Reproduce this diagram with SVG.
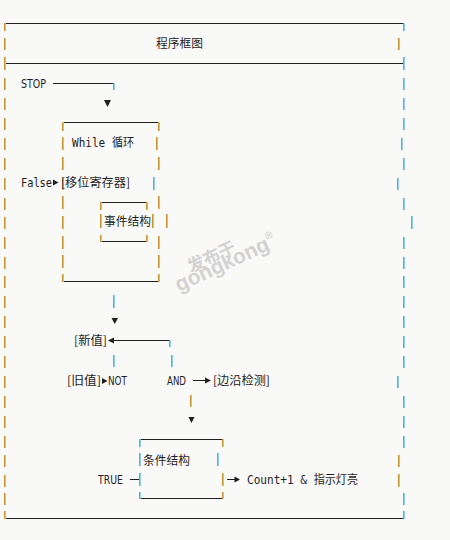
<svg xmlns="http://www.w3.org/2000/svg" width="450" height="540" viewBox="0 0 450 540">
<defs>
<linearGradient id="vg" x1="0" x2="1" y1="0" y2="0">
<stop offset="0.5" stop-color="#cc9636"/>
<stop offset="0.5" stop-color="#8ccbf0"/>
</linearGradient>
<style>
.v{fill:url(#vg)}
.h{stroke:#1e1e1e;stroke-width:1;fill:none}
.a{fill:#1e1e1e}
.t{font-family:"DejaVu Sans Mono","Noto Sans CJK SC",monospace;font-size:12px;fill:#1e1e1e}
.s{font-family:"DejaVu Sans","Noto Sans CJK SC",sans-serif;font-size:12px;fill:#1e1e1e}
.c{font-family:"Noto Sans CJK SC",sans-serif;font-size:12px;fill:#1e1e1e}
.w{font-family:"Liberation Sans","Noto Sans CJK SC",sans-serif;font-weight:bold;fill:#d2d2d2}
</style>
</defs>
<rect width="450" height="540" fill="#f9f9f8"/>

<g id="frame">
<path class="h" d="M5 23.5H404M5 63.5H404M5 518.5H404"/>
<rect class="v" x="4" y="23" width="2" height="8"/>
<rect class="v" x="4" y="57" width="2" height="13"/>
<rect class="v" x="4" y="511" width="2" height="8"/>
<rect class="v" x="4" y="38" width="2" height="12"/>
<rect class="v" x="4" y="78" width="2" height="12"/>
<rect class="v" x="4" y="98" width="2" height="12"/>
<rect class="v" x="4" y="118" width="2" height="12"/>
<rect class="v" x="4" y="138" width="2" height="12"/>
<rect class="v" x="4" y="158" width="2" height="12"/>
<rect class="v" x="4" y="178" width="2" height="12"/>
<rect class="v" x="4" y="198" width="2" height="12"/>
<rect class="v" x="4" y="217" width="2" height="12"/>
<rect class="v" x="4" y="237" width="2" height="12"/>
<rect class="v" x="4" y="257" width="2" height="12"/>
<rect class="v" x="4" y="276" width="2" height="12"/>
<rect class="v" x="4" y="296" width="2" height="12"/>
<rect class="v" x="4" y="316" width="2" height="12"/>
<rect class="v" x="4" y="336" width="2" height="12"/>
<rect class="v" x="4" y="356" width="2" height="12"/>
<rect class="v" x="4" y="376" width="2" height="12"/>
<rect class="v" x="4" y="396" width="2" height="12"/>
<rect class="v" x="4" y="416" width="2" height="12"/>
<rect class="v" x="4" y="436" width="2" height="12"/>
<rect class="v" x="4" y="455" width="2" height="12"/>
<rect class="v" x="4" y="475" width="2" height="12"/>
<rect class="v" x="4" y="493" width="2" height="12"/>
<rect class="v" x="403" y="23" width="2" height="8"/>
<rect class="v" x="403" y="57" width="2" height="13"/>
<rect class="v" x="403" y="511" width="2" height="8"/>
<rect class="v" x="398" y="38" width="2" height="12"/>
<rect class="v" x="403" y="78" width="2" height="12"/>
<rect class="v" x="403" y="98" width="2" height="12"/>
<rect class="v" x="403" y="118" width="2" height="12"/>
<rect class="v" x="401" y="138" width="2" height="12"/>
<rect class="v" x="403" y="158" width="2" height="12"/>
<rect class="v" x="397" y="178" width="2" height="12"/>
<rect class="v" x="403" y="198" width="2" height="12"/>
<rect class="v" x="411" y="216" width="2" height="13"/>
<rect class="v" x="403" y="237" width="2" height="12"/>
<rect class="v" x="403" y="257" width="2" height="12"/>
<rect class="v" x="403" y="276" width="2" height="12"/>
<rect class="v" x="403" y="296" width="2" height="12"/>
<rect class="v" x="403" y="316" width="2" height="12"/>
<rect class="v" x="403" y="336" width="2" height="12"/>
<rect class="v" x="403" y="356" width="2" height="12"/>
<rect class="v" x="397" y="376" width="2" height="12"/>
<rect class="v" x="403" y="396" width="2" height="12"/>
<rect class="v" x="403" y="416" width="2" height="12"/>
<rect class="v" x="403" y="436" width="2" height="12"/>
<rect class="v" x="398" y="455" width="2" height="12"/>
<rect class="v" x="398" y="474" width="2" height="13"/>
<rect class="v" x="403" y="493" width="2" height="12"/>
</g>

<g id="title">
<text class="c" x="156" y="47.5" textLength="47" lengthAdjust="spacingAndGlyphs">程序框图</text>
</g>

<g id="stop">
<text class="s" x="21" y="88" textLength="25" lengthAdjust="spacingAndGlyphs">STOP</text>
</g>

<g id="while-loop">
<path class="h" d="M62 122.5H160M62 281.5H160"/>
<rect class="v" x="62" y="122" width="2" height="9"/>
<rect class="v" x="158" y="122" width="2" height="9"/>
<rect class="v" x="62" y="274" width="2" height="8"/>
<rect class="v" x="158" y="274" width="2" height="8"/>
<rect class="v" x="62" y="137" width="2" height="13"/>
<rect class="v" x="62" y="157" width="2" height="13"/>
<rect class="v" x="62" y="177" width="2" height="13"/>
<rect class="v" x="62" y="196" width="2" height="13"/>
<rect class="v" x="62" y="216" width="2" height="13"/>
<rect class="v" x="62" y="236" width="2" height="13"/>
<rect class="v" x="62" y="255" width="2" height="13"/>
<rect class="v" x="156" y="137" width="2" height="13"/>
<rect class="v" x="158" y="157" width="2" height="13"/>
<rect class="v" x="153" y="177" width="2" height="13"/>
<rect class="v" x="158" y="196" width="2" height="13"/>
<rect class="v" x="166" y="214" width="2" height="14"/>
<rect class="v" x="158" y="236" width="2" height="13"/>
<rect class="v" x="158" y="255" width="2" height="13"/>
<text class="t" x="72" y="147" textLength="62" lengthAdjust="spacingAndGlyphs">While 循环</text>
</g>

<g id="shift-register">
<text class="t" x="21" y="187" textLength="31" lengthAdjust="spacingAndGlyphs">False</text>
<text class="c" x="61" y="187" textLength="69" lengthAdjust="spacingAndGlyphs">[移位寄存器]</text>
</g>

<g id="event-structure">
<path class="h" d="M101 202.5H147M101 241.5H147"/>
<rect class="v" x="100" y="202" width="2" height="8"/>
<rect class="v" x="146" y="202" width="2" height="8"/>
<rect class="v" x="100" y="235" width="2" height="7"/>
<rect class="v" x="146" y="235" width="2" height="7"/>
<rect class="v" x="100" y="214" width="2" height="14"/>
<rect class="v" x="152" y="214" width="2" height="14"/>
<text class="c" x="104" y="226" textLength="47" lengthAdjust="spacingAndGlyphs">事件结构</text>
</g>

<g id="new-value">
<text class="c" x="74" y="345" textLength="33" lengthAdjust="spacingAndGlyphs">[新值]</text>
</g>

<g id="old-value-not">
<text class="c" x="67" y="385" textLength="34" lengthAdjust="spacingAndGlyphs">[旧值]</text>
<text class="s" x="108" y="385" textLength="19" lengthAdjust="spacingAndGlyphs">NOT</text>
</g>

<g id="and">
<text class="s" x="167" y="385" textLength="19" lengthAdjust="spacingAndGlyphs">AND</text>
</g>

<g id="edge-detect">
<text class="c" x="213" y="385" textLength="57" lengthAdjust="spacingAndGlyphs">[边沿检测]</text>
</g>

<g id="case-structure">
<path class="h" d="M140 439.5H224M140 498.5H224"/>
<rect class="v" x="139" y="439" width="2" height="8"/>
<rect class="v" x="222" y="439" width="2" height="8"/>
<rect class="v" x="139" y="492" width="2" height="7"/>
<rect class="v" x="222" y="492" width="2" height="7"/>
<rect class="v" x="139" y="453" width="2" height="13"/>
<rect class="v" x="217" y="453" width="2" height="13"/>
<rect class="v" x="139" y="473" width="2" height="13"/>
<rect class="v" x="222" y="473" width="2" height="13"/>
<text class="c" x="143" y="465" textLength="47" lengthAdjust="spacingAndGlyphs">条件结构</text>
</g>

<g id="true">
<text class="s" x="98" y="484" textLength="25" lengthAdjust="spacingAndGlyphs">TRUE</text>
</g>

<g id="output">
<text class="t" x="247" y="484" textLength="111" lengthAdjust="spacingAndGlyphs">Count+1 &amp; 指示灯亮</text>
</g>

<g id="connectors">
<path class="h" d="M53 83.5H115"/>
<rect class="v" x="113" y="83" width="2" height="7"/>
<polygon class="a" points="104,100 111,100 107.5,107"/>
<polygon class="a" points="53,179.5 53,185.5 58.5,182.5"/>
<rect class="v" x="113" y="295" width="2" height="13"/>
<polygon class="a" points="111.5,318 118,318 114.75,324"/>
<polygon class="a" points="108,340.5 114,337.5 114,343.5"/>
<path class="h" d="M114 340.5H171"/>
<rect class="v" x="169" y="340" width="2" height="7"/>
<rect class="v" x="113" y="355" width="2" height="12"/>
<rect class="v" x="171" y="355" width="2" height="12"/>
<polygon class="a" points="102,378 102,384 107.5,381"/>
<path class="h" d="M193 380.5H206"/>
<polygon class="a" points="205,377.5 205,383.5 211,380.5"/>
<rect class="v" x="190" y="395" width="2" height="12"/>
<polygon class="a" points="188.5,417 194.5,417 191.5,423"/>
<path class="h" d="M130 479.5H139"/>
<path class="h" d="M227 479.5H235"/>
<polygon class="a" points="234.5,476.5 234.5,482.5 240,479.5"/>
</g>

<g id="watermark">
<text class="w" font-size="17" transform="translate(191 273) rotate(-25)">发布于</text>
<text class="w" font-size="21" transform="translate(179 292) rotate(-25)">gongkong<tspan font-size="10" dy="-10">®</tspan></text>
</g>
</svg>
